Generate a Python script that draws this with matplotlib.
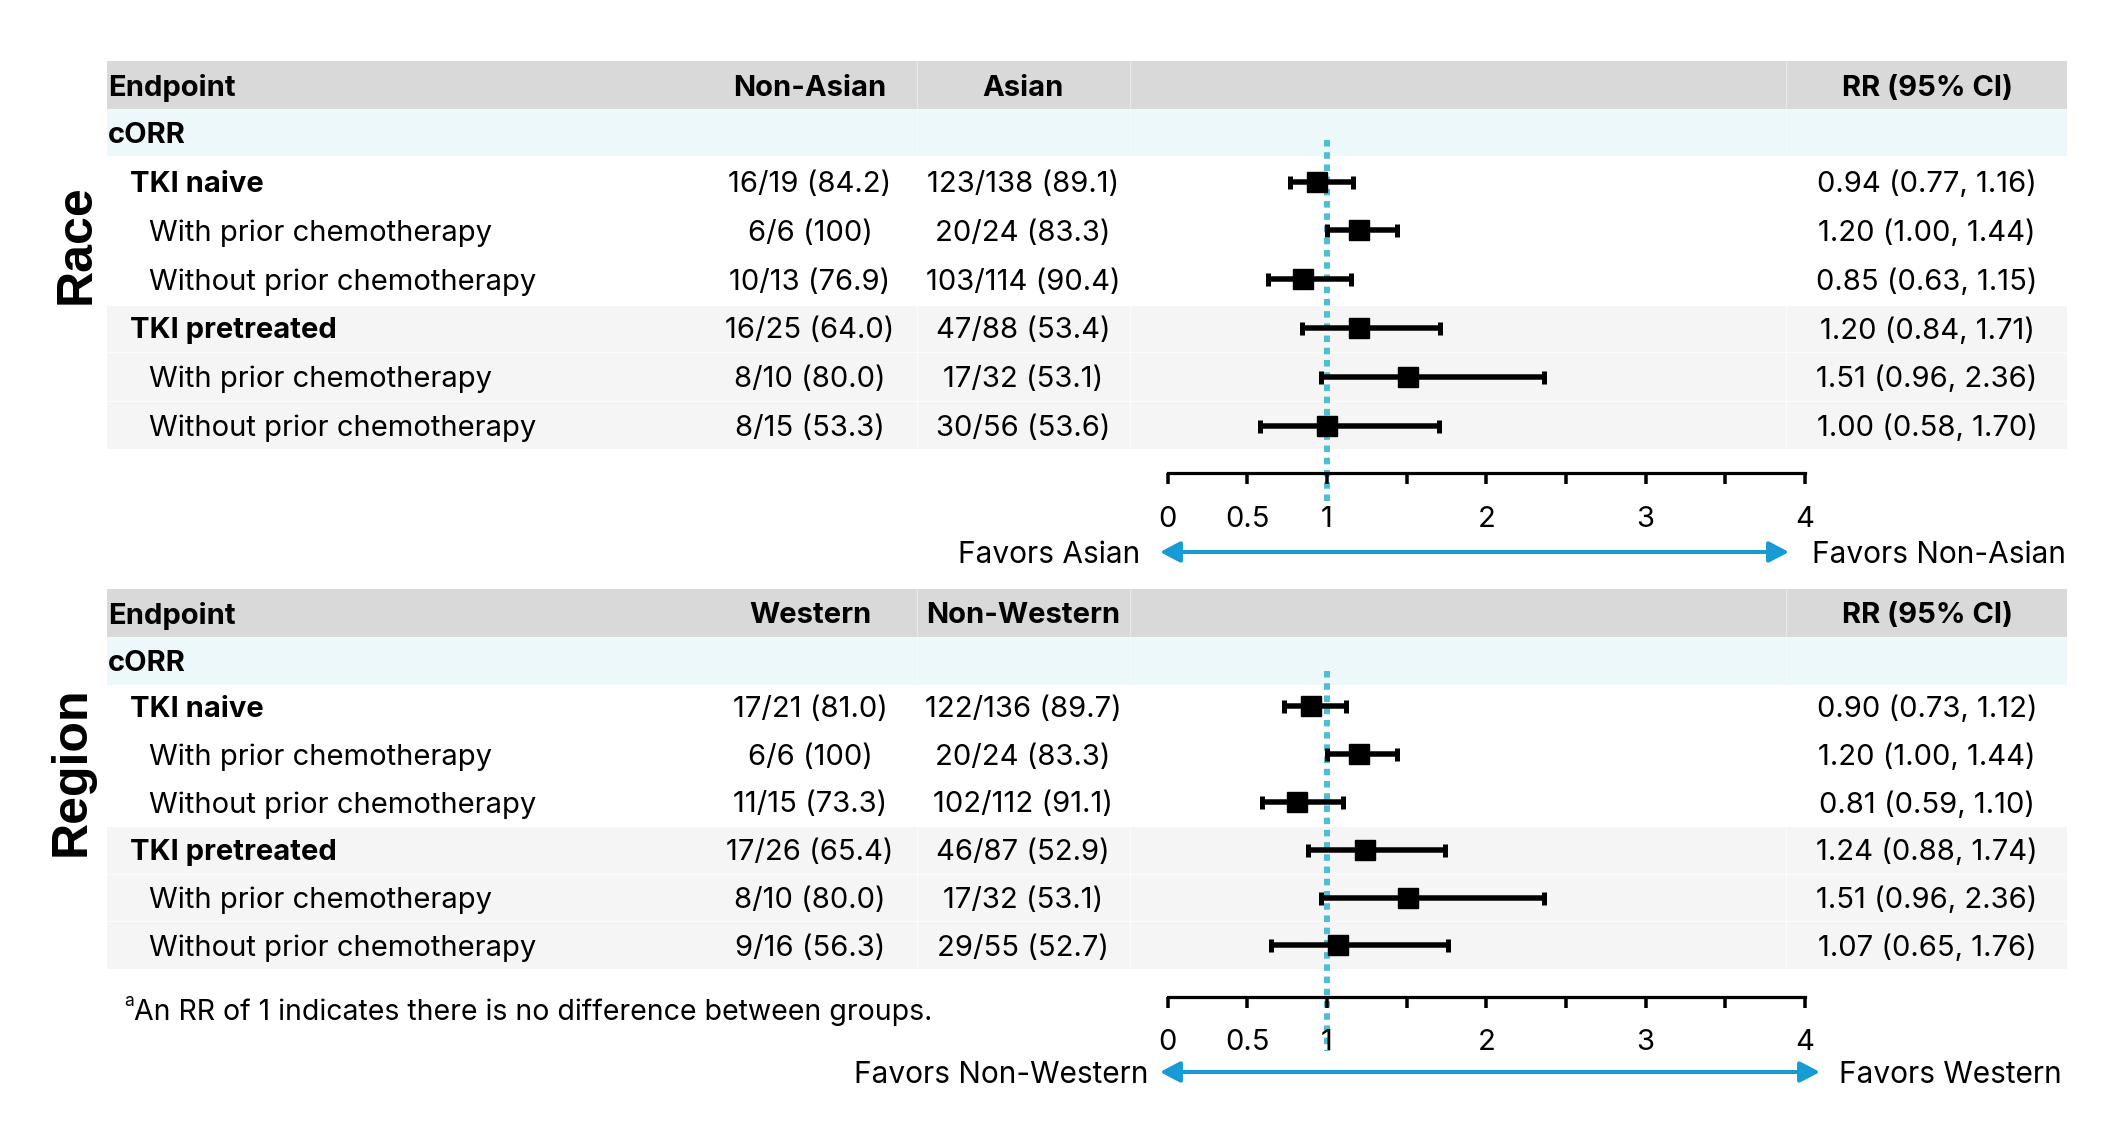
import matplotlib
matplotlib.use("Agg")
import matplotlib.pyplot as plt
import numpy as np
from matplotlib.patches import Rectangle
from matplotlib.transforms import blended_transform_factory

plt.rcParams['font.family'] = ['Inter', 'DejaVu Sans']
plt.rcParams['lines.scale_dashes'] = False

# ---------------- data ----------------
endpoint_label = "cORR"
row_labels = ["TKI naive", "With prior chemotherapy", "Without prior chemotherapy",
              "TKI pretreated", "With prior chemotherapy", "Without prior chemotherapy"]
row_level = [1, 2, 2, 1, 2, 2]

race_groups = ["Non-Asian", "Asian"]
race_col1 = ["16/19 (84.2)", "6/6 (100)", "10/13 (76.9)", "16/25 (64.0)", "8/10 (80.0)", "8/15 (53.3)"]
race_col2 = ["123/138 (89.1)", "20/24 (83.3)", "103/114 (90.4)", "47/88 (53.4)", "17/32 (53.1)", "30/56 (53.6)"]
race_rr = [0.94, 1.20, 0.85, 1.20, 1.51, 1.00]
race_lo = [0.77, 1.00, 0.63, 0.84, 0.96, 0.58]
race_hi = [1.16, 1.44, 1.15, 1.71, 2.36, 1.70]
race_favors = ["Favors Asian", "Favors Non-Asian"]

region_groups = ["Western", "Non-Western"]
region_col1 = ["17/21 (81.0)", "6/6 (100)", "11/15 (73.3)", "17/26 (65.4)", "8/10 (80.0)", "9/16 (56.3)"]
region_col2 = ["122/136 (89.7)", "20/24 (83.3)", "102/112 (91.1)", "46/87 (52.9)", "17/32 (53.1)", "29/55 (52.7)"]
region_rr = [0.90, 1.20, 0.81, 1.24, 1.51, 1.07]
region_lo = [0.73, 1.00, 0.59, 0.88, 0.96, 0.65]
region_hi = [1.12, 1.44, 1.10, 1.74, 2.36, 1.76]
region_favors = ["Favors Non-Western", "Favors Western"]

x_ticks = [0, 0.5, 1, 1.5, 2, 2.5, 3, 3.5, 4]
x_tick_labels = ["0", "0.5", "1", "", "2", "", "3", "", "4"]
footnote = "An RR of 1 indicates there is no difference between groups."
footnote_mark = "a"

# ---------------- layout ----------------
W, H = 2127, 1127
PX = 72.0 / 100.0  # points per pixel

HDR_C = '#d9d9d9'
CORR_C = '#edf8fa'
GRAY_C = '#f5f5f5'
DOT_C = '#4cbfd4'
ARROW_C = '#179bd5'

TL, TR = 107, 2067
X_END, X_L1, X_L2 = 108, 130, 149
X_C1, X_C2, X_RR = 810, 1023, 1927
SEP_X = [916.5, 1130, 1786]
FX0, FX1 = 1167.7, 1805.0

fs_row = 21
fs_tick = 21
fs_fav = 21.5

fig = plt.figure(figsize=(W / 100, H / 100), dpi=100)
bg = fig.add_axes([0, 0, 1, 1])
bg.set_xlim(0, W)
bg.set_ylim(H, 0)
bg.axis('off')


def draw_panel(spec, groups, col1, col2, rr, lo, hi, favors, side_label):
    h0, h1 = spec['hdr']
    c1 = spec['corr']
    g0, g1 = spec['gray']
    row0, sp = spec['row0'], spec['sp']
    axis_y, top = spec['axis_y'], spec['top']

    bg.add_patch(Rectangle((TL, h0), TR - TL, h1 - h0, fc=HDR_C, ec='none', zorder=0))
    bg.add_patch(Rectangle((TL, h1), TR - TL, c1 - h1, fc=CORR_C, ec='none', zorder=0))
    bg.add_patch(Rectangle((TL, g0), TR - TL, g1 - g0, fc=GRAY_C, ec='none', zorder=0))
    for sx in SEP_X:
        bg.plot([sx, sx], [h0, c1], color='white', lw=1.2 * PX, alpha=0.4, zorder=1)
        bg.plot([sx, sx], [g0, g1], color='white', lw=1.2 * PX, alpha=0.7, zorder=1)

    n = len(rr)
    ax = fig.add_axes([FX0 / W, 1 - axis_y / H, (FX1 - FX0) / W, (axis_y - top) / H])
    ax.patch.set_alpha(0)
    ax.set_xlim(0, 4)
    ymax = (axis_y - row0) / sp
    ymin = (top - row0) / sp
    ax.set_ylim(ymax, ymin)
    for s in ['top', 'left', 'right']:
        ax.spines[s].set_visible(False)
    ax.spines['bottom'].set_linewidth(3.2 * PX)
    ax.set_yticks([])
    ax.set_xticks(x_ticks)
    ax.set_xticklabels(x_tick_labels)
    ax.tick_params(axis='x', direction='out', length=11 * PX, width=3.5 * PX,
                   pad=15.5, labelsize=fs_tick, colors='black')

    tr = blended_transform_factory(bg.transData, ax.transData)
    idx = np.arange(n)

    # faint separators between shaded rows
    gray_rows = [i for i in range(n) if i >= 3]
    for i in gray_rows[:-1]:
        ax.plot([TL, TR], [i + 0.5, i + 0.5], transform=tr, clip_on=False,
                color='white', lw=1.2 * PX, alpha=0.7, zorder=0)

    # reference line at RR = 1
    dot_bot = (spec['dot_bot'] - row0) / sp
    ax.plot([1, 1], [ymin, dot_bot], color=DOT_C, lw=6 * PX, clip_on=False,
            dashes=(4.7, 4.1), solid_capstyle='butt', dash_capstyle='butt', zorder=1)

    rr_a = np.array(rr)
    err = [rr_a - np.array(lo), np.array(hi) - rr_a]
    ax.errorbar(rr_a, idx, xerr=err, fmt='s', color='black', ms=20 * PX,
                elinewidth=5.5 * PX, capsize=6.5 * PX, capthick=5 * PX, zorder=3,
                clip_on=False)

    # table texts
    bg.text(X_END, (h0 + h1) / 2, "Endpoint", fontsize=fs_row, fontweight='bold',
            ha='left', va='center_baseline')
    bg.text(X_C1, (h0 + h1) / 2, groups[0], fontsize=fs_row, fontweight='bold',
            ha='center', va='center_baseline')
    bg.text(X_C2, (h0 + h1) / 2, groups[1], fontsize=fs_row, fontweight='bold',
            ha='center', va='center_baseline')
    bg.text(X_RR, (h0 + h1) / 2, "RR (95% CI)", fontsize=fs_row, fontweight='bold',
            ha='center', va='center_baseline')
    bg.text(X_END, (h1 + c1) / 2, endpoint_label, fontsize=fs_row, fontweight='bold',
            ha='left', va='center_baseline')
    for i in range(n):
        lx = X_L1 if row_level[i] == 1 else X_L2
        fw = 'bold' if row_level[i] == 1 else 'normal'
        ax.text(lx, i, row_labels[i], transform=tr, fontsize=fs_row, fontweight=fw,
                ha='left', va='center_baseline')
        ax.text(X_C1, i, col1[i], transform=tr, fontsize=fs_row, ha='center', va='center_baseline')
        ax.text(X_C2, i, col2[i], transform=tr, fontsize=fs_row, ha='center', va='center_baseline')
        ax.text(X_RR, i, f"{rr[i]:.2f} ({lo[i]:.2f}, {hi[i]:.2f})", transform=tr,
                fontsize=fs_row, ha='center', va='center_baseline')

    # favors arrow
    ay = spec['arrow_y']
    a0, a1 = spec['arrow_x']
    bg.annotate('', xy=(a0, ay), xytext=(a1, ay),
                arrowprops=dict(arrowstyle='<|-|>,head_length=12,head_width=6.3',
                                mutation_scale=1, color=ARROW_C, lw=4 * PX,
                                shrinkA=0, shrinkB=0))
    bg.text(spec['fav_l'], ay, favors[0], fontsize=fs_fav, ha='right', va='center_baseline')
    bg.text(spec['fav_r'], ay, favors[1], fontsize=fs_fav, ha='left', va='center_baseline')

    sx, sy = spec['side']
    bg.text(sx, sy, side_label, rotation=90, fontsize=36, fontweight='bold',
            family=['Liberation Sans', 'DejaVu Sans'], ha='center', va='center')


race_spec = dict(hdr=(61.2, 109.1), corr=156.1, gray=(306.1, 448.5), row0=181.5, sp=48.8,
                 axis_y=473.3, top=140, dot_bot=507, arrow_y=552, arrow_x=(1160, 1789),
                 fav_l=1140, fav_r=1812, side=(77, 244))
region_spec = dict(hdr=(589.4, 636.5), corr=684.7, gray=(827, 969), row0=706.3, sp=47.8,
                   axis_y=996.9, top=671, dot_bot=1051, arrow_y=1072, arrow_x=(1160, 1820),
                   fav_l=1148, fav_r=1839, side=(72, 771))

draw_panel(race_spec, race_groups, race_col1, race_col2, race_rr, race_lo, race_hi,
           race_favors, "Race")
draw_panel(region_spec, region_groups, region_col1, region_col2, region_rr, region_lo,
           region_hi, region_favors, "Region")

bg.text(124, 1000, footnote_mark, fontsize=12.5, ha='left', va='center_baseline')
bg.text(134, 1009, footnote, fontsize=20.5, ha='left', va='center_baseline')

fig.savefig("out.png", dpi=100)
